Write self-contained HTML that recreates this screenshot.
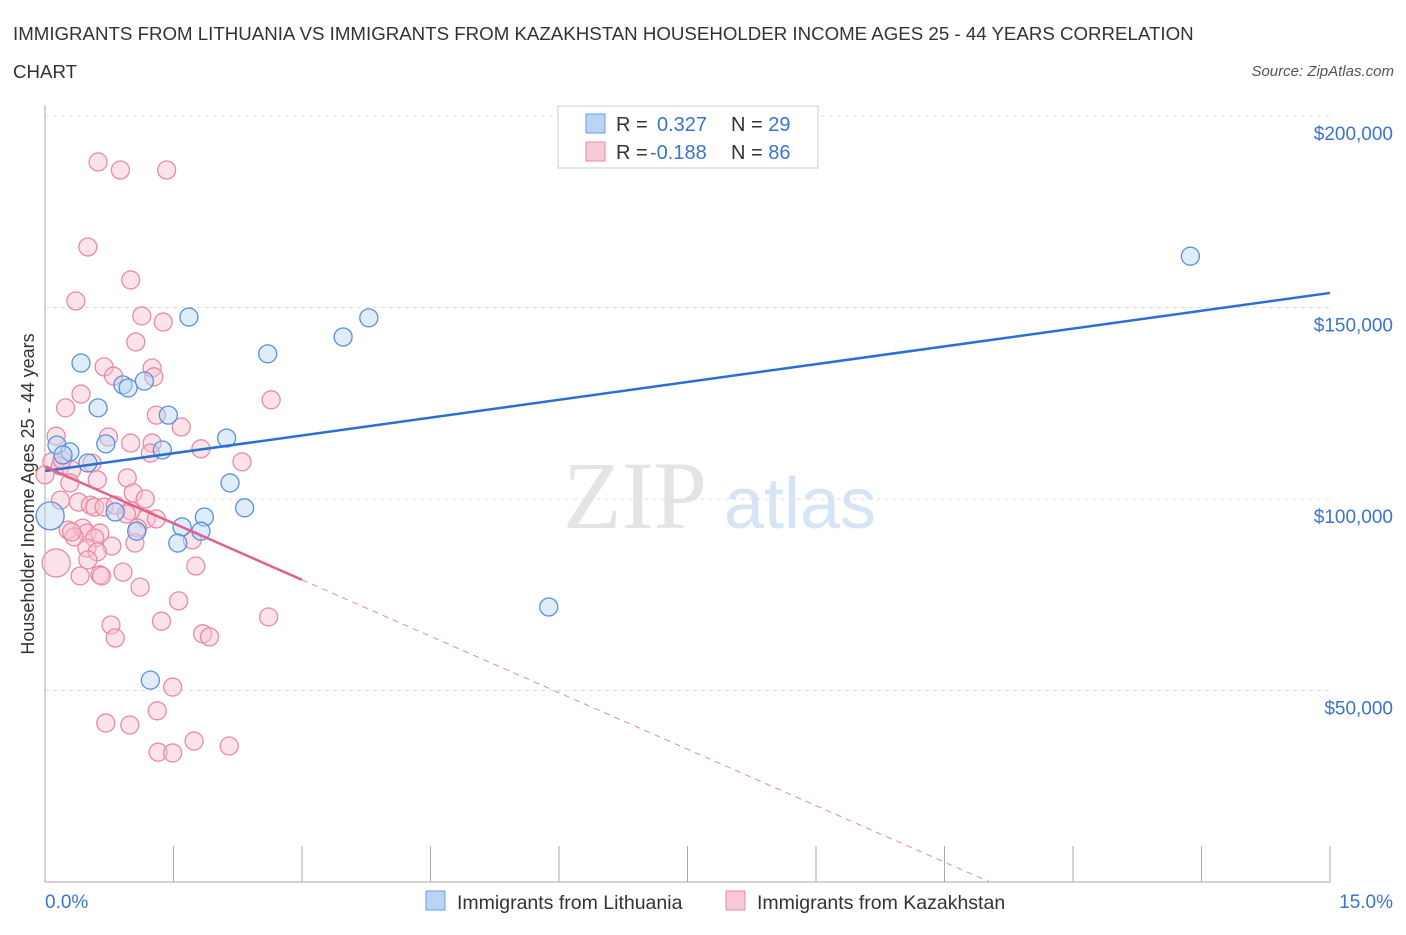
<!DOCTYPE html>
<html><head><meta charset="utf-8"><style>
body{margin:0;background:#fff;font-family:"Liberation Sans",sans-serif}
#c{position:relative;width:1406px;height:930px}
</style></head><body>
<div id="c">
<svg id="s" width="1406" height="930">
<text x="13" y="40" font-size="18.7" fill="#333">IMMIGRANTS FROM LITHUANIA VS IMMIGRANTS FROM KAZAKHSTAN HOUSEHOLDER INCOME AGES 25 - 44 YEARS CORRELATION</text>
<text x="13" y="78" font-size="18.7" fill="#333">CHART</text>
<text x="1394" y="76" font-size="15" fill="#555" font-style="italic" text-anchor="end">Source: ZipAtlas.com</text>
<text x="635" y="528" font-size="96" fill="#e4e4e4" font-family="Liberation Serif" text-anchor="middle">ZIP</text>
<text x="800" y="528" font-size="72" fill="#d6e4f5" text-anchor="middle">atlas</text>
<text transform="translate(34,494) rotate(-90)" font-size="18" fill="#333" text-anchor="middle">Householder Income Ages 25 - 44 years</text>
<g id="grid"></g><g id="marks"></g>
<g>
<rect x="558" y="106" width="260" height="62" fill="#fff" stroke="#ccc"/>
<rect x="586" y="114" width="19" height="19" fill="#b9d4f4" stroke="#6a9ee0"/>
<rect x="586" y="142" width="19" height="19" fill="#f9c9d6" stroke="#e88aa6"/>
<text x="616" y="131" font-size="20" fill="#333">R = <tspan fill="#3a74d0" x="657">0.327</tspan><tspan x="731" fill="#333">N = </tspan><tspan fill="#3a74d0">29</tspan></text>
<text x="616" y="159" font-size="20" fill="#333">R = <tspan fill="#3a74d0" x="650">-0.188</tspan><tspan x="731" fill="#333">N = </tspan><tspan fill="#3a74d0">86</tspan></text>
</g>
<g>
<rect x="426" y="891" width="19" height="19" fill="#b9d4f4" stroke="#6a9ee0"/>
<text x="457" y="909" font-size="19.5" fill="#333">Immigrants from Lithuania</text>
<rect x="726" y="891" width="19" height="19" fill="#f9c9d6" stroke="#e88aa6"/>
<text x="757" y="909" font-size="19.5" fill="#333">Immigrants from Kazakhstan</text>
</g>
</svg></div>
<script>
const yTicks=[50000,100000,150000,200000];
const yTickLabels=["$50,000","$100,000","$150,000","$200,000"];
const xTickLabels=["0.0%","15.0%"];
const blueX=[13.37,3.78,1.68,3.48,2.60,0.42,1.16,0.91,0.97,0.62,1.44,0.14,0.71,2.12,1.37,0.29,0.21,0.50,2.16,2.33,0.82,1.86,1.60,1.07,1.82,1.55,5.88,1.23,0.06];
const blueY=[163.4,147.3,147.5,142.3,137.9,135.5,130.8,129.8,129.0,123.8,121.9,114.1,114.4,115.9,112.8,112.3,111.5,109.4,104.2,97.7,96.6,95.3,92.7,91.6,91.6,88.5,71.8,52.7,95.6];
const blueBig=[28];
const pinkX=[0.62,0.88,1.42,0.50,1.00,0.36,1.13,1.38,1.06,0.69,1.25,0.80,1.27,0.42,2.64,0.24,1.30,1.59,0.13,0.74,1.25,1.00,1.82,1.23,2.30,0.08,0.18,0.31,0.20,0.0,0.55,0.29,0.96,0.61,1.03,1.17,0.39,0.18,0.53,0.58,0.69,0.82,1.00,1.18,0.95,1.30,1.08,0.27,0.44,0.49,0.34,0.64,0.31,0.58,1.72,1.05,0.78,0.49,0.61,0.50,0.13,0.91,1.76,0.64,0.41,0.66,1.11,1.56,2.61,1.36,0.77,1.84,1.92,0.82,1.49,1.31,0.71,0.99,1.74,2.15,1.32,1.49];
const pinkY=[188.0,185.9,185.9,165.8,157.2,151.7,147.8,146.2,141.0,134.5,134.2,132.1,131.9,127.4,125.9,123.8,121.9,118.8,116.4,116.2,114.6,114.6,113.1,112.0,109.7,109.7,108.6,107.6,110.2,106.3,109.4,104.2,105.5,105.0,101.6,100.0,99.2,99.7,98.4,97.9,97.9,98.4,96.9,94.8,96.1,94.8,92.4,91.9,92.4,91.1,90.1,91.1,91.4,89.8,89.3,88.5,87.7,87.2,86.2,84.1,83.3,80.9,82.5,80.2,79.9,79.9,77.0,73.4,69.2,68.1,67.1,64.8,64.0,63.7,50.9,44.7,41.5,41.0,36.8,35.5,33.9,33.7];
const pinkBig=[60];
const blueTrend=[[0,107.3],[15,153.8]];
const pinkTrend=[[0,108.4],[3.0,78.9]];
const pinkSlope=-9.83;
const X=v=>45+v/15*1285, Y=v=>882-v*1000/50000*191.5;
const NS="http://www.w3.org/2000/svg";
function mk(t,a,p){const e=document.createElementNS(NS,t);for(const k in a)e.setAttribute(k,a[k]);p.appendChild(e);return e;}
const g=document.getElementById('grid'),m=document.getElementById('marks');
yTicks.forEach((t,i)=>{const y=882-t/50000*191.5;
 const l=mk('line',{x1:45,x2:1330,y1:y,y2:y,stroke:'#ddd','stroke-dasharray':'4,4'},g);
 
 const tx=mk('text',{x:1393,y:y+24,'font-size':19,fill:'#3a74d0','text-anchor':'end'},g);tx.textContent=yTickLabels[i];
 });
mk('line',{x1:45,x2:45,y1:105,y2:882,stroke:'#aaa'},g);
mk('line',{x1:45,x2:1330,y1:882,y2:882,stroke:'#aaa'},g);
for(let i=0;i<=10;i++){const x=X(i*1.5);const t=mk('line',{x1:x,x2:x,y1:846,y2:882,stroke:'#aaa'},g);}
[[0,45,'start'],[1,1393,'end']].forEach(([i,x,a])=>{const t=mk('text',{x:x,y:908,'font-size':19,fill:'#3a74d0','text-anchor':a},g);t.textContent=xTickLabels[i];});
function pts(xs,ys,big,fill,stroke,name){xs.forEach((x,i)=>{const c=mk('circle',{cx:X(x),cy:Y(ys[i]),r:big.includes(i)?14:9,fill:fill,'fill-opacity':0.45,stroke:stroke,'stroke-width':1.3},m);
 });}
pts(pinkX,pinkY,pinkBig,'#f9c0d0','#e88aa6','kazakhstan-point');
pts(blueX,blueY,blueBig,'#b9d4f4','#5a90dc','lithuania-point');
let l=mk('line',{x1:X(blueTrend[0][0]),y1:Y(blueTrend[0][1]),x2:X(blueTrend[1][0]),y2:Y(blueTrend[1][1]),stroke:'#2a6fd6','stroke-width':2.5},m);

l=mk('line',{x1:X(pinkTrend[0][0]),y1:Y(pinkTrend[0][1]),x2:X(pinkTrend[1][0]),y2:Y(pinkTrend[1][1]),stroke:'#e0628c','stroke-width':2.5},m);

const x0=pinkTrend[0][0]-pinkTrend[0][1]/pinkSlope;
l=mk('line',{x1:X(pinkTrend[1][0]),y1:Y(pinkTrend[1][1]),x2:X(x0),y2:Y(0),stroke:'#e88aa6','stroke-width':1,'stroke-dasharray':'6,5'},m);

</script></body></html>
